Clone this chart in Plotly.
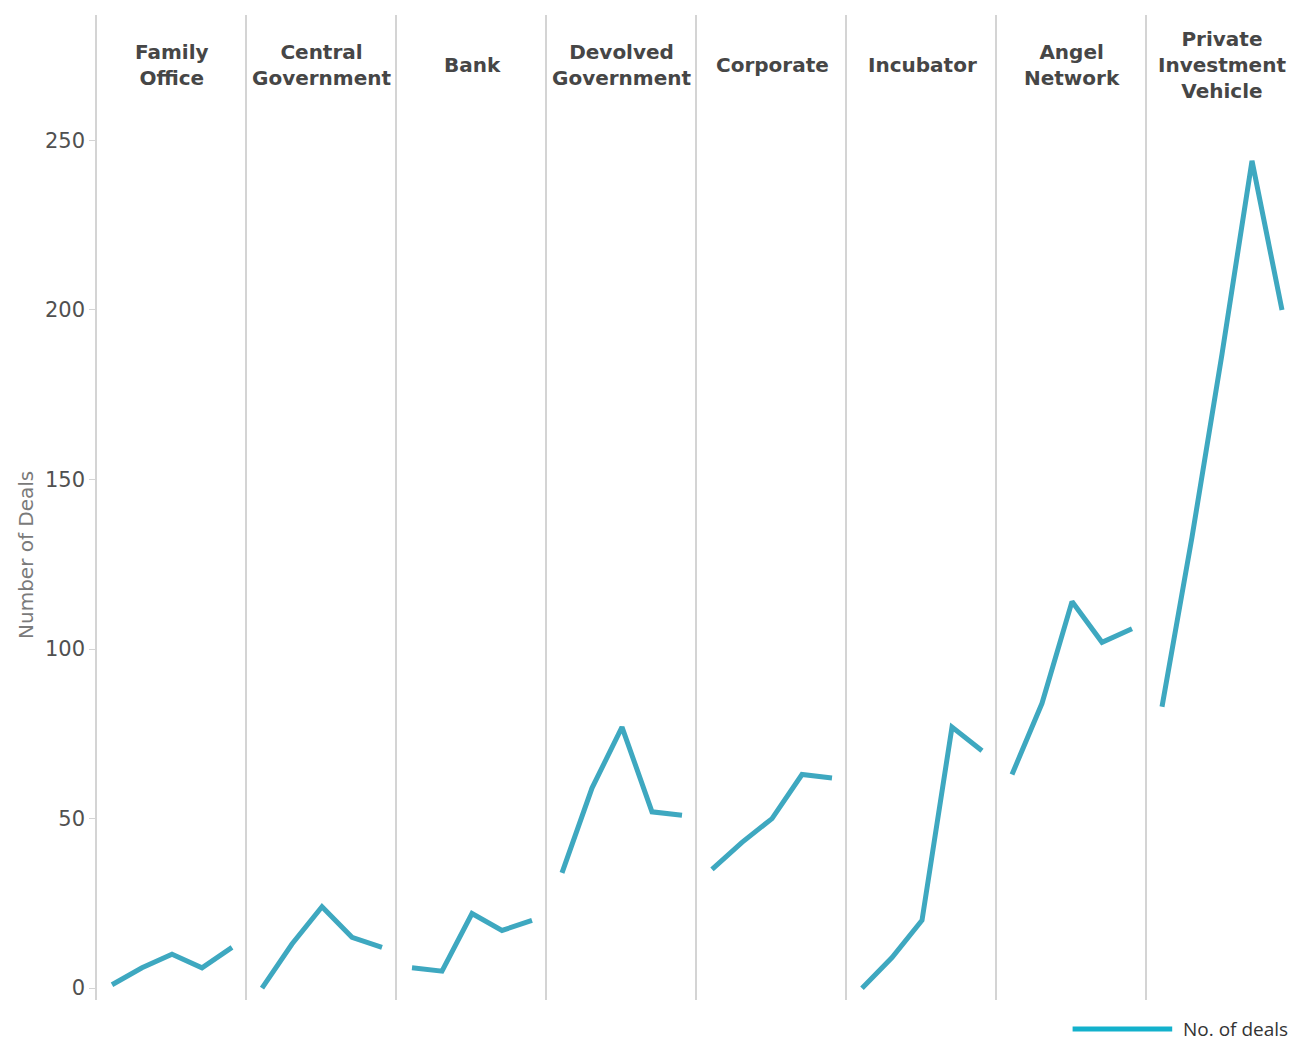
import plotly.graph_objects as go
from plotly.subplots import make_subplots

# ---- data ----
categories = ["Family<br>Office", "Central<br>Government", "Bank", "Devolved<br>Government",
              "Corporate", "Incubator", "Angel<br>Network", "Private<br>Investment<br>Vehicle"]
years = [2011, 2012, 2013, 2014, 2015]
family_office = [1, 6, 10, 6, 12]
central_government = [0, 13, 24, 15, 12]
bank = [6, 5, 22, 17, 20]
devolved_government = [34, 59, 77, 52, 51]
corporate = [35, 43, 50, 63, 62]
incubator = [0, 9, 20, 77, 70]
angel_network = [63, 84, 114, 102, 106]
private_investment_vehicle = [83, 133, 187, 244, 200]
series = [family_office, central_government, bank, devolved_government,
          corporate, incubator, angel_network, private_investment_vehicle]
y_ticks = [0, 50, 100, 150, 200, 250]

LINE_COLOR = "#3ea8c0"
DIVIDER = "#d4d4d4"
n = len(categories)

fig = make_subplots(rows=1, cols=n, shared_yaxes=True, horizontal_spacing=0)

for i, vals in enumerate(series):
    fig.add_trace(go.Scatter(x=years, y=vals, mode="lines",
                             line=dict(color=LINE_COLOR, width=5),
                             showlegend=False, name="No. of deals"),
                  row=1, col=i + 1)
    fig.update_xaxes(range=[years[0] - 0.5, years[-1] + 0.5], showticklabels=False,
                     showgrid=False, zeroline=False, showline=False, ticks="",
                     row=1, col=i + 1)
    fig.add_annotation(text="<b>%s</b>" % categories[i], xref="x%s domain" % ("" if i == 0 else i + 1),
                       yref="paper", x=0.5, y=0.949, xanchor="center", yanchor="middle",
                       showarrow=False, font=dict(family="DejaVu Sans", size=20, color="#464646"))

for i in range(n):
    kw = dict(range=[-3.5, 287], showgrid=False, zeroline=False, showline=True,
              linecolor=DIVIDER, linewidth=1.5)
    if i == 0:
        kw.update(tickvals=y_ticks, ticks="outside", ticklen=6, tickcolor=DIVIDER,
                  tickfont=dict(family="DejaVu Sans", size=21, color="#505050"))
    else:
        kw.update(showticklabels=False, ticks="")
    if i == n - 1:
        kw.update(mirror=True)
    fig.update_yaxes(row=1, col=i + 1, **kw)

# y-axis title
fig.add_annotation(text="Number of Deals", xref="paper", yref="paper", x=-0.059, y=0.452,
                   textangle=-90, showarrow=False, xanchor="center", yanchor="middle",
                   font=dict(family="DejaVu Sans", size=20, color="#7a7a7a"))

# legend (manual)
fig.add_shape(type="line", xref="paper", yref="paper", x0=0.813, x1=0.896, y0=-0.0294, y1=-0.0294,
              line=dict(color="#13b1cc", width=5))
fig.add_annotation(text="No. of deals", xref="paper", yref="paper", x=0.9035, y=-0.0294,
                   xanchor="left", yanchor="middle", showarrow=False,
                   font=dict(family="Open Sans", size=19, color="#333333"))

fig.update_layout(width=1292, height=1032, margin=dict(l=89, r=1, t=7, b=40),
                  paper_bgcolor="white", plot_bgcolor="white")

fig.write_html("out.html")
